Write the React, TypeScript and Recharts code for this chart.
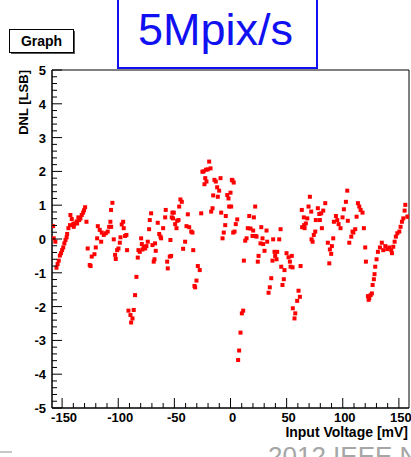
import { ScatterChart, Scatter, XAxis, YAxis, ReferenceArea } from 'recharts';

// DNL measured at 5 Mpix/s: [input voltage mV, DNL LSB]
const dnlPoints: [number, number][] = [
  [-158, 0.38], [-157.5, 0.02], [-156, -0.08], [-155, -0.85], [-154, -0.74], [-153, -0.64],
  [-152, -0.49], [-151, -0.42], [-150, -0.33], [-149, -0.25], [-148, -0.13], [-147, -0.03],
  [-146, 0.05], [-145.5, 0.15], [-144.4, 0.32], [-143, 0.41], [-142.6, 0.71], [-141.4, 0.59],
  [-140, 0.45], [-139.6, 0.36], [-138.4, 0.46], [-137, 0.52], [-136.6, 0.46], [-135.5, 0.64],
  [-134.8, 0.56], [-133.7, 0.61], [-132.5, 0.71], [-131.3, 0.78], [-130.5, 0.85], [-129.5, 0.94],
  [-128.3, 0.51], [-127.2, -0.28], [-125.4, -0.77], [-124.6, -0.8], [-123.6, -0.52], [-121.2, -0.45],
  [-120, -0.25], [-118.8, 0.02], [-118.2, 0.38], [-116.5, 0.27], [-115.2, -0.08], [-114.7, 0.19],
  [-112.9, 0.12], [-111.1, 0.17], [-109.4, 0.22], [-108.1, 0.36], [-107, 0.51], [-106.4, 0.86],
  [-106.3, 0.36], [-105.2, 1.07], [-104, -0.01], [-102.8, -0.47], [-102.2, -0.59], [-101, -0.33],
  [-99.8, -0.28], [-98.6, -0.11], [-98, 0.05], [-96.9, 0.43], [-95.6, 0.51], [-95.1, 0.32],
  [-93.9, 0.09], [-92.7, 0.12], [-92.1, -0.33], [-90.9, -2.12], [-89.1, -2.25], [-88.5, -2.47],
  [-87.3, -2.35], [-86.2, -2.1], [-85, -1.66], [-83.8, -1.12], [-82.6, -0.55], [-82, -0.33],
  [-80.8, -0.38], [-79.6, 0.02], [-79, -0.15], [-78.4, -0.31], [-77.3, -0.23], [-76, -0.28],
  [-74.9, -0.21], [-73.7, -0.08], [-72.5, 0.29], [-71.9, 0.56], [-70.7, 0.76], [-69.5, -0.18],
  [-68.4, -0.67], [-67.7, -0.6], [-67.2, -0.13], [-66.6, -0.35], [-64.8, 0.48], [-63.5, 0.15],
  [-62.4, 0.07], [-61.8, 0.02], [-60, 0.32], [-58.2, 0.64], [-57.7, 0.86], [-56.4, -0.67],
  [-55.9, -0.87], [-54.1, -0.52], [-53.5, -0.03], [-52.9, -0.5], [-52.3, 0.64], [-51.7, 0.78],
  [-51.2, 0.61], [-50.5, 0.78], [-49.3, 0.44], [-48.1, 0.32], [-47.5, 0.54], [-46.3, 0.56],
  [-45.7, 0.96], [-44.6, 1.17], [-43.4, 1.1], [-42.2, -0.29], [-40.4, -0.08], [-39.2, 0.38],
  [-38, 0.73], [-36.8, 0.35], [-35, 0.22], [-33.9, 0.19], [-33.2, -0.33], [-32.1, -1.39],
  [-31.5, -1.43], [-30.3, -1.23], [-29.1, -0.8], [-27.4, -0.92], [-26.1, 0.76], [-25, 1.99],
  [-24, 2.0], [-23.2, 1.62], [-22.5, 1.8], [-21.8, 2.05], [-21.4, 1.7], [-20.2, 2.06],
  [-19, 2.29], [-17.8, 2.09], [-17.2, 0.81], [-16, 0.91], [-15.4, 1.29], [-14.3, 1.75],
  [-13.1, 1.7], [-11.9, 1.53], [-11.3, 1.25], [-10.1, 1.43], [-8.9, 1.8], [-8.3, 0.78],
  [-7.1, 0.02], [-6, 0.19], [-4.7, 0.41], [-4.2, 0.68], [-2.9, 1.3], [-1.8, 1.2],
  [-1.2, 0.96], [0, 1.37], [0.6, 0.96], [1.2, 1.75], [1.8, 1.73], [2.4, 0.19],
  [2.9, 1.67], [3.6, 0.22], [4.7, 0.44], [6, 0.58], [6.8, -3.58], [7.7, -3.3],
  [8.9, -2.77], [10.1, -2.2], [11.3, -2.12], [11.9, -0.64], [13.1, -0.05], [14.3, 0.02],
  [15.4, 0.32], [16.7, 0.68], [17.8, 0.31], [19.6, 0.09], [20.2, 0.25], [20.8, 0.64],
  [22, 0.96], [22.3, 0.09], [23.2, 0.07], [24.3, -0.67], [25, -0.5], [26.7, -0.13],
  [27.4, 0.35], [28.5, 0.02], [29.1, -0.15], [30.3, -0.35], [32.1, 0.25], [32.7, -0.08],
  [33.9, -1.59], [35, -1.43], [36.3, -1.16], [37.4, -0.64], [38, -0.01], [39.2, -0.38],
  [39.8, -0.5], [41, -0.6], [41.6, -0.38], [43.4, -0.01], [44.6, 0.29], [45.2, -0.82],
  [46.3, -1.36], [47.5, -1.19], [48.1, -0.92], [49.9, -0.42], [51.7, -0.54], [52.9, -0.67],
  [53.5, -0.82], [54.6, -0.5], [55.3, -0.84], [55.5, -2.05], [57, -2.35], [57.7, -2.2],
  [59.4, -1.83], [60.6, -1.53], [61.8, -1.71], [62.4, -0.8], [63.5, 0.86], [63.8, 0.35],
  [65.3, 0.64], [65.6, 0.41], [66, 0.32], [67.1, 0.46], [68.4, 0.61], [69.5, 0.96],
  [70.7, 1.25], [71.9, 0.81], [72.2, -0.01], [73.1, -0.08], [74.2, 0.12], [75.5, 0.22],
  [76, 0.56], [77.8, 0.91], [79.1, 0.74], [79.6, 0.56], [80.8, 0.76], [81.4, 0.32],
  [82.6, 0.84], [84.4, 1.06], [86.7, -0.11], [88, -0.72], [88.5, -0.31], [89.7, -0.44],
  [90.3, -0.21], [91.5, 0.02], [92.1, 0.51], [93.9, 0.68], [95.1, 0.56], [96.3, 0.44],
  [98, 0.32], [99.8, 0.64], [101, 0.88], [102.8, 1.1], [104, 1.43], [104.5, 0.54],
  [105.8, -0.11], [107.6, 0.07], [108.7, 0.22], [109.4, 0.19], [111.1, 0.29], [112.3, 0.66],
  [113.5, 1.06], [114.7, 0.96], [115.9, 0.86], [117.6, 0.78], [118.8, 0.32], [120, -0.25],
  [120.6, -0.67], [122.4, -1.69], [123, -1.8], [123.6, -1.75], [124.8, -1.66], [125.9, -1.61],
  [126.6, -1.36], [127.7, -1.19], [128.3, -1.04], [128.9, -0.82], [130.1, -0.6], [131.3, -0.38],
  [133.1, -0.25], [134.8, -0.11], [136.1, -0.33], [137.9, -0.21], [139.6, -0.3], [141.4, -0.25],
  [143.2, -0.33], [143.8, -0.42], [145, -0.23], [146.2, -0.08], [147.3, 0.07], [148.6, 0.17],
  [150.4, 0.22], [151.5, 0.36], [152.7, 0.51], [153.9, 0.61], [155.1, 0.84], [155.7, 1.01],
  [157.5, 0.66], [158.6, 0.66],
];

const xMajorTicks = [-150, -100, -50, 0, 50, 100, 150];
const yMajorTicks = [-5, -4, -3, -2, -1, 0, 1, 2, 3, 4, 5];

const X_DOMAIN: [number, number] = [-159, 159];
const Y_DOMAIN: [number, number] = [-5, 5];

// minor ticks: 5 per major division on both axes
const xTicks: number[] = [];
for (let i = 0; i < xMajorTicks.length - 1; i++) {
  for (let k = 0; k < 5; k++) xTicks.push(xMajorTicks[i] + k * 10);
}
xTicks.push(xMajorTicks[xMajorTicks.length - 1]);

const yTicks: number[] = [];
for (let i = 0; i < yMajorTicks.length - 1; i++) {
  for (let k = 0; k < 5; k++) yTicks.push(yMajorTicks[i] + k / 5);
}
yTicks.push(yMajorTicks[yMajorTicks.length - 1]);

const data = dnlPoints.map(([x, y]) => ({ x, y }));

const FONT = '"Liberation Sans", Arial, Helvetica, sans-serif';

function XTick({ x, y, payload }: any) {
  const v = payload.value;
  const major = xMajorTicks.includes(v);
  return (
    <g>
      <line x1={x} y1={y} x2={x} y2={y - (major ? 10 : 5)} stroke="#000" />
      {major && (
        <text x={x + 2} y={y + 14} textAnchor="middle" fontFamily={FONT} fontWeight="bold" fontSize={13} fill="#000">
          {String(v)}
        </text>
      )}
    </g>
  );
}

function YTick({ x, y, payload }: any) {
  const v = payload.value;
  const major = Math.abs(v - Math.round(v)) < 1e-6;
  return (
    <g>
      <line x1={x} y1={y} x2={x + (major ? 10 : 5)} y2={y} stroke="#000" />
      {major && (
        <text x={x - 6} y={y + 5} textAnchor="end" fontFamily={FONT} fontWeight="bold" fontSize={13} fill="#000">
          {String(Math.round(v))}
        </text>
      )}
    </g>
  );
}

function Marker({ cx, cy }: any) {
  return <rect x={cx - 2} y={cy - 2} width={4} height={4} fill="#ff0000" />;
}

export default function App() {
  return (
    <div style={{ position: 'absolute', left: 0, top: 0, width: 411, height: 457, overflow: 'hidden', background: '#fff' }}>
      <ScatterChart width={411} height={457} margin={{ top: 70, right: 2, bottom: 19, left: 12 }}>
        <XAxis
          type="number"
          dataKey="x"
          domain={X_DOMAIN}
          allowDataOverflow
          ticks={xTicks}
          interval={0}
          tickSize={0}
          tickMargin={0}
          tickLine={false}
          height={30}
          axisLine={{ stroke: '#000' }}
          tick={<XTick />}
        />
        <YAxis
          type="number"
          dataKey="y"
          domain={Y_DOMAIN}
          allowDataOverflow
          ticks={yTicks}
          interval={0}
          tickSize={0}
          tickMargin={0}
          tickLine={false}
          width={40}
          axisLine={{ stroke: '#000' }}
          tick={<YTick />}
        />
        <ReferenceArea x1={X_DOMAIN[0]} x2={X_DOMAIN[1]} y1={Y_DOMAIN[0]} y2={Y_DOMAIN[1]} fill="none" fillOpacity={0} stroke="#000" strokeOpacity={1} />
        <Scatter data={data} shape={<Marker />} isAnimationActive={false} />
      </ScatterChart>

      <svg width={411} height={457} style={{ position: 'absolute', left: 0, top: 0, pointerEvents: 'none' }}>
        {/* graph name box with shadow */}
        <rect x={11} y={31} width={64} height={23} fill="#555" />
        <rect x={9.5} y={29.5} width={64} height={23} fill="#fff" stroke="#000" />
        <text x={41.5} y={46} textAnchor="middle" fontFamily={FONT} fontWeight="bold" fontSize={14} fill="#000">
          Graph
        </text>

        {/* slide title */}
        <rect x={118} y={-5} width={199} height={73} fill="#fff" stroke="#1010f0" strokeWidth={2} />
        <text x={138} y={45} fontFamily={FONT} fontSize={45} fill="#1010f0">
          5Mpix/s
        </text>

        <text
          x={28}
          y={70}
          transform="rotate(-90 28 70)"
          textAnchor="end"
          fontFamily={FONT}
          fontWeight="bold"
          fontSize={13}
          fill="#000"
        >
          DNL [LSB]
        </text>
        <text x={408} y={437} textAnchor="end" fontFamily={FONT} fontWeight="bold" fontSize={14} fill="#000">
          Input Voltage [mV]
        </text>

        <text x={268} y={465} fontFamily={FONT} fontSize={26} fill="#a6a6a6">
          2012 IEEE NSS
        </text>
        <line x1={0} y1={452} x2={12} y2={452} stroke="#c8c8c8" strokeWidth={2} />
      </svg>
    </div>
  );
}
